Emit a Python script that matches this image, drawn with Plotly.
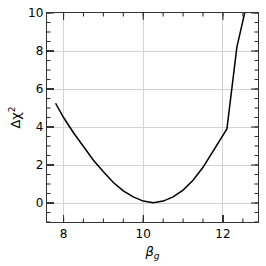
import numpy as np
import plotly.graph_objects as go

beta_g = [7.8, 8.0, 8.25, 8.5, 8.75, 9.0, 9.25, 9.5, 9.75, 10.0, 10.25, 10.5, 10.75,
          11.0, 11.25, 11.5, 11.75, 12.0, 12.1, 12.35, 12.6]
delta_chi2 = [5.25, 4.5, 3.7, 2.95, 2.25, 1.65, 1.08, 0.64, 0.32, 0.1, 0.01, 0.1, 0.32,
              0.68, 1.2, 1.88, 2.72, 3.55, 3.9, 8.2, 10.5]
x_tick_step = 2
y_tick_step = 2
minor_step = 0.5
x_range = [7.585, 12.88]
y_range = [-1, 10]

FONT = "DejaVu Sans"
AX = "#333333"
MAJOR_LEN, MINOR_LEN = 7, 3.5

fig = go.Figure()
fig.add_trace(go.Scatter(x=beta_g, y=delta_chi2, mode="lines",
                         line=dict(color="black", width=1.5), cliponaxis=True,
                         hoverinfo="skip"))

axis_style = dict(showline=True, linecolor=AX, linewidth=1.2, mirror=True,
                  ticks="inside", ticklen=MAJOR_LEN, tickwidth=1.2, tickcolor=AX,
                  showgrid=True, gridcolor="#d3d3d3", gridwidth=1, zeroline=False,
                  tickfont=dict(family=FONT, size=12, color="black"))


def tick_positions(rng, step):
    start = np.ceil(rng[0] / step) * step
    return [float(v) for v in np.arange(start, rng[1] + 1e-9, step)]


# inward tick marks on all four sides, placed on the axes' own data scale
shapes = []
for step, length in ((minor_step, MINOR_LEN), (x_tick_step, MAJOR_LEN)):
    for v in tick_positions(x_range, step):
        for anchor, sign in ((0, 1), (1, -1)):
            shapes.append(dict(type="line", xref="x", yref="paper", ysizemode="pixel",
                               yanchor=anchor, x0=v, x1=v, y0=0, y1=sign * length,
                               line=dict(color=AX, width=1.1), layer="above"))
for step, length in ((minor_step, MINOR_LEN), (y_tick_step, MAJOR_LEN)):
    for v in tick_positions(y_range, step):
        for anchor, sign in ((0, 1), (1, -1)):
            shapes.append(dict(type="line", yref="y", xref="paper", xsizemode="pixel",
                               xanchor=anchor, y0=v, y1=v, x0=0, x1=sign * length,
                               line=dict(color=AX, width=1.1), layer="above"))

fig.update_layout(
    template="none",
    width=266, height=266,
    margin=dict(l=47, r=8, t=13, b=44, autoexpand=False),
    plot_bgcolor="white", paper_bgcolor="white",
    showlegend=False,
    font=dict(family=FONT, color="black"),
    xaxis=dict(range=x_range, tickmode="linear", tick0=0, dtick=x_tick_step,
               title=dict(text="<i>β</i><sub><i>g</i></sub>", font=dict(family=FONT, size=13), standoff=7),
               **axis_style),
    yaxis=dict(range=y_range, tickmode="linear", tick0=0, dtick=y_tick_step,
               title=dict(text="Δχ<sup>2</sup>", font=dict(family=FONT, size=13), standoff=4),
               **axis_style),
    shapes=shapes,
)

fig.write_html("out.html", config={"displayModeBar": False, "staticPlot": True},
               post_script="document.body.style.margin='0';")
